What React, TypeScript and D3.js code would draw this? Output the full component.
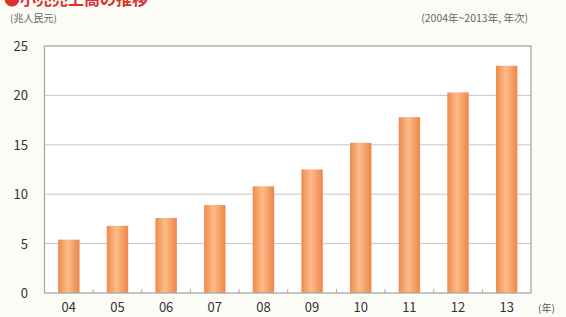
import React from "react";
import * as d3 from "d3";

const years = ["04", "05", "06", "07", "08", "09", "10", "11", "12", "13"];
const values = [5.4, 6.8, 7.6, 8.9, 10.8, 12.5, 15.2, 17.8, 20.3, 23.0];
const yTicks = [0, 5, 10, 15, 20, 25];

const W = 566, H = 317;
const left = 44.5, right = 531, top = 46, bottom = 293;

export default function App() {
  const x = d3.scaleBand<string>().domain(years).range([left, right]).paddingInner(0.56).paddingOuter(0.28);
  const y = d3.scaleLinear().domain([0, 25]).range([bottom, top]);
  const step = x.step();
  const font = "'Noto Sans CJK JP', 'DejaVu Sans', sans-serif";
  return (
    <svg width={W} height={H} style={{ position: "absolute", left: 0, top: 0, background: "#fcfcf7" }} fontFamily={font}>
      <defs>
        <linearGradient id="barg" x1="0" x2="1" y1="0" y2="0">
          <stop offset="0" stopColor="#ef8a4c" />
          <stop offset="0.45" stopColor="#fbbd8a" />
          <stop offset="0.6" stopColor="#f8ae78" />
          <stop offset="1" stopColor="#ee8548" />
        </linearGradient>
      </defs>
      <rect x={0} y={0} width={W} height={H} fill="#fcfcf7" />
      <text x={4} y={5} fontSize={16} fontWeight="bold" fill="#d9322e">●小売売上高の推移</text>
      <text x={10} y={22} fontSize={10} fill="#666">(兆人民元)</text>
      <text x={528} y={22} fontSize={10.5} fill="#666" textAnchor="end">(2004年~2013年, 年次)</text>
      <rect x={left} y={top} width={right - left} height={bottom - top} fill="#ffffff" />
      {yTicks.filter(t => t > 0 && t < 25).map(t => (
        <line key={t} x1={left} x2={right} y1={y(t)} y2={y(t)} stroke="#c4c6c8" strokeWidth={1} />
      ))}
      {years.map((yr, i) => (
        <rect key={yr} x={x(yr)!} y={y(values[i])} width={x.bandwidth()} height={bottom - y(values[i])} fill="url(#barg)" />
      ))}
      <rect x={left} y={top} width={right - left} height={bottom - top} fill="none" stroke="#a8a8a8" strokeWidth={1.3} />
      {years.slice(1).map(yr => (
        <line key={yr} x1={x(yr)! - (step - x.bandwidth()) / 2} x2={x(yr)! - (step - x.bandwidth()) / 2} y1={bottom} y2={bottom - 4} stroke="#a8a8a8" />
      ))}
      {yTicks.map(t => (
        <text key={t} x={28} y={y(t) + 5} fontSize={13} fill="#333" textAnchor="end">{t}</text>
      ))}
      {years.map(yr => (
        <text key={yr} x={x(yr)! + x.bandwidth() / 2} y={312} fontSize={13} fill="#333" textAnchor="middle">{yr}</text>
      ))}
      <text x={538} y={312} fontSize={10} fill="#555">(年)</text>
    </svg>
  );
}
